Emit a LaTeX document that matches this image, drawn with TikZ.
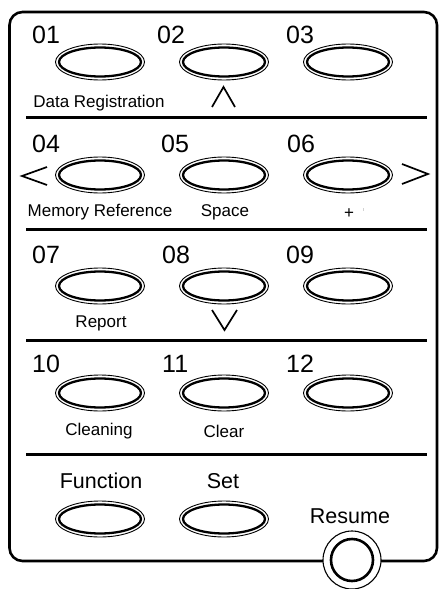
\documentclass[tikz,border=0pt]{standalone}
\usepackage{fontspec}
\setmainfont{Liberation Sans}
\usetikzlibrary{shapes.geometric}
\begin{document}
\begin{tikzpicture}[x=1pt,y=-1pt,
  btn/.style={ellipse, draw, line width=2.3pt, minimum width=82pt, minimum height=29pt, inner sep=0pt},
  btnring/.style={line width=0.9pt},
  num/.style={anchor=base west, inner sep=0pt, font=\fontsize{25}{25}\selectfont},
  lbl/.style={anchor=base, inner sep=0pt, font=\fontsize{17}{17}\selectfont},
  big/.style={anchor=base, inner sep=0pt, font=\fontsize{21.5}{21.5}\selectfont},
  divider/.style={line width=2.3pt},
  chev/.style={line width=1.7pt, line join=miter},
  frame/.style={line width=2.6pt, rounded corners=13pt},
]
\useasboundingbox (0,0) rectangle (439,589);
% outer frame
\draw[frame] (9.5,12) rectangle (437,561);
% dividers
\foreach \yy in {117.5,229.5,340.5,454.5}
  \draw[divider] (26,\yy) -- (427,\yy);
% buttons
\node[btn] (b01) at (100,62) {};
\node[btn] (b02) at (224,62) {};
\node[btn] (b03) at (348,62) {};
\node[btn] (b04) at (100,175) {};
\node[btn] (b05) at (224,175) {};
\node[btn] (b06) at (348,175) {};
\node[btn] (b07) at (100,286) {};
\node[btn] (b08) at (224,286) {};
\node[btn] (b09) at (348,286) {};
\node[btn] (b10) at (100,393) {};
\node[btn] (b11) at (224,393) {};
\node[btn] (b12) at (348,393) {};
\node[btn] (bfn) at (100,519) {};
\node[btn] (bset) at (224,519) {};
\foreach \n in {b01,b02,b03,b04,b05,b06,b07,b08,b09,b10,b11,b12,bfn,bset}
  \draw[btnring] (\n.center) ellipse [x radius=44.5pt, y radius=18pt];
% numbers
\node[num] (n01) at (32,43) {01};
\node[num] (n02) at (157,43) {02};
\node[num] (n03) at (286,43) {03};
\node[num] (n04) at (32,152) {04};
\node[num] (n05) at (161,152) {05};
\node[num] (n06) at (287,152) {06};
\node[num] (n07) at (32,263) {07};
\node[num] (n08) at (162,263) {08};
\node[num] (n09) at (286,263) {09};
\node[num] (n10) at (32,372) {10};
\node[num] (n11) at (162,372) {11};
\node[num] (n12) at (286,372) {12};
% labels
\node[lbl] (l01) at (99,107) {Data Registration};
\node[lbl] (l04) at (100,216) {Memory Reference};
\node[lbl] (l05) at (225,216) {Space};
\node[lbl] (l06) at (349,218.5) {+};
\fill[gray!35] (362.6,208) rectangle (363.6,210.5);
\node[lbl] (l07) at (101,327) {Report};
\node[lbl] (l10) at (99,435) {Cleaning};
\node[lbl] (l11) at (224,437) {Clear};
\node[big] (lfn) at (101,488) {Function};
\node[big] (lset) at (223,488) {Set};
\node[big] (lres) at (350,523) {Resume};
% arrows (chevrons)
\draw[chev] (212,107) -- (223.5,87) -- (235,107);
\draw[chev] (212,310) -- (224.5,330) -- (237,310);
\draw[chev] (47,167) -- (22,176) -- (47,185);
\draw[chev] (402,164) -- (428,174) -- (402,184);
% resume button
\coordinate (rc) at (352,560);
\draw[line width=1.1pt, fill=white] (rc) circle (29pt);
\node[circle, draw, line width=2.6pt, minimum size=42pt, inner sep=0pt] (resume) at (rc) {};
\end{tikzpicture}
\end{document}
